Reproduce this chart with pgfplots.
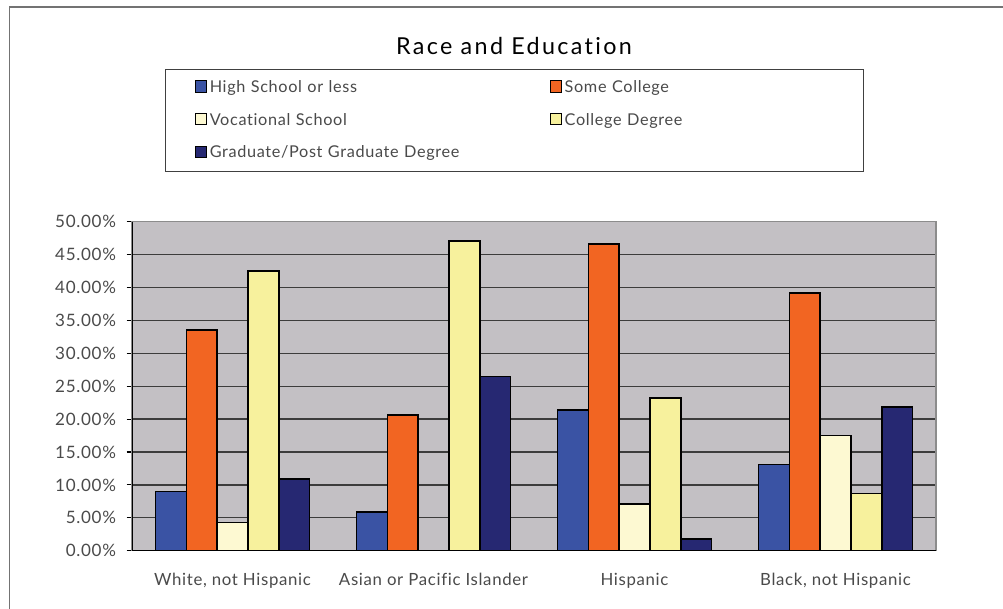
\documentclass[border=0pt]{standalone}
\usepackage{pgfplots}
\pgfplotsset{compat=1.18}
\usepackage{fontspec}
\setmainfont{Lato}[LetterSpace=4, Ligatures=NoCommon]

\definecolor{cHS}{HTML}{3A53A4}
\definecolor{cSC}{HTML}{F26522}
\definecolor{cVS}{HTML}{FDF9D2}
\definecolor{cCD}{HTML}{F7F19D}
\definecolor{cGD}{HTML}{262872}
\definecolor{plotbg}{HTML}{C3C0C4}
\definecolor{gridc}{HTML}{3C3C3C}
\definecolor{txt}{HTML}{4A4A4A}

% Share of each race group by highest education level (percent)
% columns: group index, high school or less, some college, vocational, college degree, graduate
\pgfplotstableread{
x  hs    sc    vs    cd    gd
0  9.0   33.5  4.3   42.5  10.9
1  5.9   20.6  0.0   47.1  26.5
2  21.4  46.6  7.1   23.2  1.8
3  13.1  39.2  17.5  8.7   21.8
}\racedata

\begin{document}
\begin{tikzpicture}[x=0.75pt,y=0.75pt]
\useasboundingbox (0,0) rectangle (1003,609);
% outer chart frame (top and left edges)
\draw[black!55, line width=1.1pt] (9.5,-5) -- (9.5,602) -- (1010,602);

\node[font=\fontsize{17.5}{20}\selectfont\addfontfeatures{LetterSpace=10}, anchor=center] at (514,609-46.5) {Race and Education};

\begin{axis}[
  at={(99pt,43.7pt)}, anchor=south west,
  width=603pt, height=246.75pt, scale only axis,
  ybar=0pt, bar width=23.1pt,
  xmin=-0.5, xmax=3.5,
  ymin=0, ymax=50,
  xtick={0,1,2,3},
  xticklabels={{White, not Hispanic},{Asian or Pacific Islander},{Hispanic},{Black, not Hispanic}},
  x tick label style={font=\fontsize{12.6}{14}\selectfont, text=txt, yshift=-9.5pt},
  major x tick style={draw=none},
  extra x ticks={-0.5,0.5,1.5,2.5,3.5},
  extra x tick labels={},
  extra x tick style={major tick length=4pt, tick align=outside, grid=none, major tick style={draw=black, line width=0.8pt}},
  ytick={0,5,...,50},
  yticklabel={\pgfmathprintnumber[fixed,fixed zerofill,precision=2]{\tick}\%},
  /pgf/number format/assume math mode=true,
  y tick label style={font=\fontsize{12.8}{14}\selectfont, text=txt, xshift=-4.5pt},
  ytick pos=left, xtick pos=bottom,
  tick align=outside, major tick length=4pt,
  major y tick style={draw=black, line width=0.8pt},
  ymajorgrids, major grid style={draw=gridc, line width=1pt},
  axis background/.style={fill=plotbg},
  axis line style={draw=black!45, line width=0.9pt},
  every axis plot/.append style={draw=black, line width=1.2pt},
  legend columns=2,
  legend cell align=left,
  legend image code/.code={\draw[#1, line width=0.8pt] (0pt,-3.4pt) rectangle (8.4pt,5pt);},
  legend style={
    at={(0.041,1.465)}, anchor=north west,
    draw=black!75, line width=0.8pt, fill=white,
    font=\fontsize{12.2}{14}\selectfont, text=txt,
    row sep=10pt, inner xsep=22pt, inner ysep=6.5pt,
    nodes={text width=200pt, align=left, inner sep=2pt},
    /tikz/column 2/.style={column sep=53pt},
  },
]
\addplot[fill=cHS] table[x=x,y=hs] {\racedata};
\addplot[fill=cSC] table[x=x,y=sc] {\racedata};
\addplot[fill=cVS] table[x=x,y=vs] {\racedata};
\addplot[fill=cCD] table[x=x,y=cd] {\racedata};
\addplot[fill=cGD] table[x=x,y=gd] {\racedata};
\legend{High School or less, Some College, Vocational School, College Degree, Graduate/Post Graduate Degree}
% left and bottom axis lines in black
\draw[black, line width=0.9pt] (rel axis cs:0,1) -- (rel axis cs:0,0) -- (rel axis cs:1,0);
\end{axis}
\end{tikzpicture}
\end{document}
